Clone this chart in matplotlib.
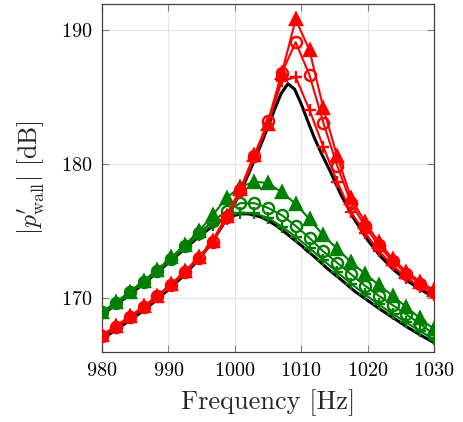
import matplotlib
matplotlib.use("Agg")
import matplotlib.pyplot as plt

plt.rcParams['font.family'] = ['cmr10', 'DejaVu Serif']
plt.rcParams['mathtext.fontset'] = 'cm'
plt.rcParams['axes.formatter.use_mathtext'] = True

# marker frequencies (Hz)
freq = [980.00, 982.08, 984.17, 986.25, 988.33, 990.42, 992.50, 994.58, 996.67,
        998.75, 1000.83, 1002.92, 1005.00, 1007.08, 1009.17, 1011.25, 1013.33,
        1015.42, 1017.50, 1019.58, 1021.67, 1023.75, 1025.83, 1027.92, 1030.00]

# red series
red_plus = [167.15, 167.85, 168.55, 169.30, 170.10, 170.95, 171.95, 172.95, 174.15,
            175.95, 177.95, 180.45, 183.00, 186.20, 186.50, 184.05, 181.30,
            178.70, 176.45, 174.90, 173.55, 172.45, 171.55, 170.85, 170.25]
red_circ = [167.20, 167.90, 168.60, 169.35, 170.15, 171.00, 172.00, 173.00, 174.20,
            176.05, 178.05, 180.60, 183.20, 186.80, 189.10, 186.65, 183.10,
            179.90, 177.10, 175.40, 173.95, 172.75, 171.85, 171.10, 170.45]
red_tri = [167.25, 167.95, 168.65, 169.40, 170.20, 171.05, 172.05, 173.05, 174.30,
           176.15, 178.15, 180.70, 183.00, 186.80, 190.80, 188.50, 184.20,
           180.60, 177.50, 175.70, 174.20, 172.95, 172.00, 171.25, 170.60]

# green series
green_plus = [168.90, 169.60, 170.40, 171.20, 172.00, 172.90, 173.80, 174.70, 175.50,
              176.10, 176.40, 176.35, 176.00, 175.35, 174.60, 173.75, 172.85,
              171.95, 171.10, 170.30, 169.55, 168.85, 168.20, 167.55, 166.95]
green_circ = [168.95, 169.65, 170.45, 171.25, 172.05, 172.95, 173.90, 174.85, 175.75,
              176.50, 177.10, 177.10, 176.75, 176.20, 175.40, 174.50, 173.50,
              172.65, 171.80, 170.95, 170.20, 169.50, 168.80, 168.10, 167.30]
green_tri = [169.00, 169.70, 170.50, 171.30, 172.15, 173.05, 174.00, 175.00, 176.20,
             177.50, 178.30, 178.70, 178.60, 177.90, 177.05, 175.90, 174.70,
             173.70, 172.70, 171.85, 171.00, 170.20, 169.35, 168.50, 167.70]

# reference (black) curves
ref_freq = [980, 982, 984, 986, 988, 990, 992, 994, 996, 998, 1000, 1001, 1002, 1003,
            1004, 1005, 1006, 1007, 1008, 1009, 1010, 1011, 1012, 1013, 1014, 1015,
            1016, 1018, 1020, 1022, 1024, 1026, 1028, 1030]
ref_red = [167.00, 167.60, 168.30, 169.00, 169.80, 170.65, 171.55, 172.60, 173.80,
           175.30, 177.10, 178.10, 179.20, 180.35, 181.55, 182.80, 184.10, 185.30,
           186.00, 185.60, 184.50, 183.20, 181.95, 180.85, 179.85, 178.80, 177.70,
           175.90, 174.35, 173.10, 172.10, 171.30, 170.65, 170.10]
ref_green = [168.80, 169.50, 170.20, 171.00, 171.80, 172.65, 173.50, 174.35, 175.15,
             175.80, 176.20, 176.30, 176.30, 176.20, 176.05, 175.80, 175.50, 175.15,
             174.75, 174.35, 173.95, 173.50, 173.10, 172.65, 172.20, 171.80, 171.40,
             170.55, 169.85, 169.15, 168.50, 167.85, 167.25, 166.70]

RED = '#ff0000'
GREEN = '#008000'

fig = plt.figure(figsize=(4.63, 4.22), dpi=100)
ax = fig.add_axes([0.2203, 0.1659, 0.9374 - 0.2203, 0.9905 - 0.1659])

ax.plot(ref_freq, ref_green, color='black', lw=2.2, zorder=2)
ax.plot(ref_freq, ref_red, color='black', lw=2.2, zorder=2)

ms = 8
mew = 1.7
lw = 1.5
ax.plot(freq, green_plus, color=GREEN, lw=lw, marker='+', ms=ms + 1, mew=mew, zorder=3)
ax.plot(freq, green_circ, color=GREEN, lw=lw, marker='o', ms=ms, mew=mew,
        mfc='none', zorder=3)
ax.plot(freq, green_tri, color=GREEN, lw=lw, marker='^', ms=ms, mew=mew, zorder=3)
ax.plot(freq, red_plus, color=RED, lw=lw, marker='+', ms=ms + 1, mew=mew, zorder=4)
ax.plot(freq, red_circ, color=RED, lw=lw, marker='o', ms=ms, mew=mew,
        mfc='none', zorder=4)
ax.plot(freq, red_tri, color=RED, lw=lw, marker='^', ms=ms, mew=mew, zorder=4)

ax.set_xlim(980, 1030)
ax.set_ylim(166.0, 191.95)
ax.set_xticks([980, 990, 1000, 1010, 1020, 1030])
ax.set_yticks([170, 180, 190])

ax.grid(True, color='#e6e6e6', lw=0.8, zorder=0)
ax.set_axisbelow(True)
ax.tick_params(direction='in', length=5, width=0.8, color='#808080',
               top=True, right=True, labelsize=14.5, pad=7)
for s in ax.spines.values():
    s.set_color('#404040')
    s.set_linewidth(0.9)

ax.set_xlabel('Frequency [Hz]', fontsize=19, labelpad=7, color='#262626')
ax.set_ylabel(r"$|p^{\prime}_{\mathrm{wall}}|$ [dB]", fontsize=18.5, labelpad=10,
              color='#262626')

fig.savefig('out.png', dpi=100)
